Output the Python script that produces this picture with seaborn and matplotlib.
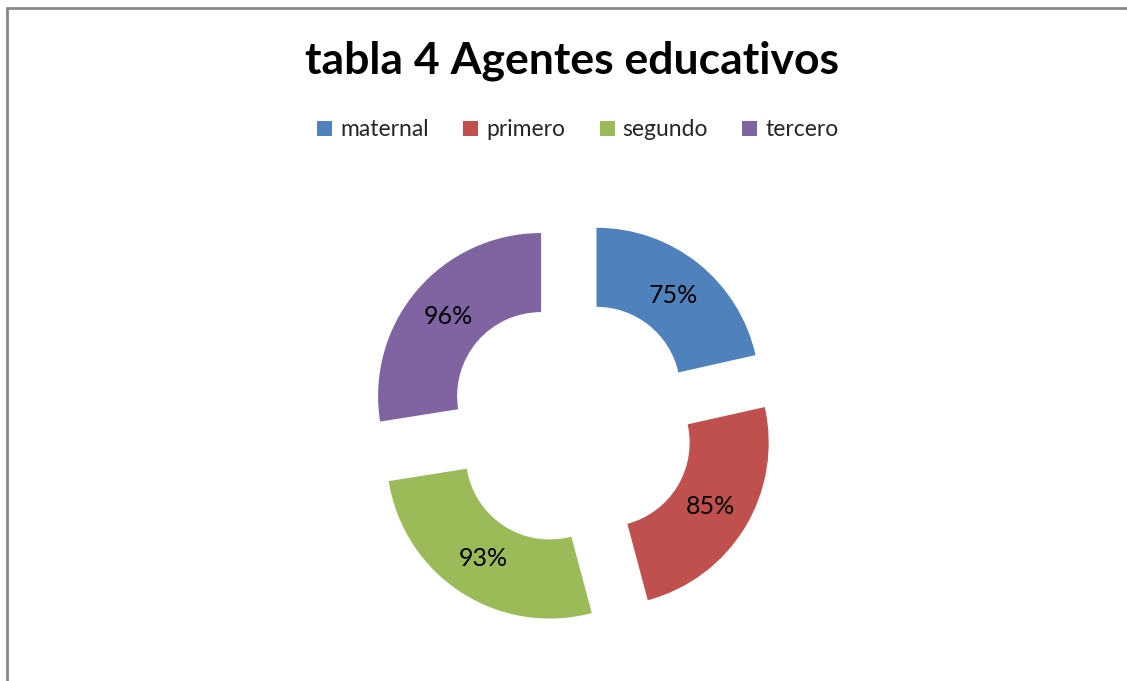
import matplotlib
matplotlib.use('Agg')
import matplotlib.pyplot as plt
from matplotlib.lines import Line2D
import seaborn as sns

# data
etapas = ["maternal", "primero", "segundo", "tercero"]
porcentajes = [75, 85, 93, 96]
colores = ["#4F81BD", "#C0504D", "#9BBB59", "#8064A2"]
titulo = "tabla 4 Agentes educativos"

sns.set_theme(style="white")
plt.rcParams['font.family'] = ['Lato', 'DejaVu Sans']

W, H = 1127, 681
fig = plt.figure(figsize=(W / 100, H / 100), dpi=100)
ax = fig.add_axes([0, 0, 1, 1])

radio = 163
centro = (571.5, H - 422)
wedges, _, autotexts = ax.pie(
    porcentajes, colors=sns.color_palette(colores), startangle=90,
    counterclock=False, radius=radio, center=centro,
    explode=[40] * len(porcentajes),
    autopct=lambda p: "{:.0f}%".format(p * sum(porcentajes) / 100),
    pctdistance=0.75,
    wedgeprops=dict(width=radio * 0.485, linewidth=0),
    textprops=dict(fontsize=18, color="black"))

ax.set_xlim(0, W)
ax.set_ylim(0, H)
ax.set_aspect('equal')
ax.axis('off')

# frame of the chart area (only top and left edges are visible)
fig.add_artist(Line2D([6.5 / W, 6.5 / W], [0, 1 - 7.5 / H], transform=fig.transFigure,
                      color="#888888", lw=2))
fig.add_artist(Line2D([6.5 / W, 1], [1 - 7.5 / H, 1 - 7.5 / H], transform=fig.transFigure,
                      color="#888888", lw=2))

fig.text(572 / W, 1 - 61 / H, titulo, ha="center", va="center",
         fontsize=32, fontweight="bold", color="black")

leg = ax.legend(wedges, etapas, loc="center", bbox_to_anchor=(578 / W, 1 - 130 / H),
                ncol=4, frameon=False, fontsize=16.5, handlelength=0.65,
                handleheight=0.65, handletextpad=0.35, columnspacing=1.5)

fig.savefig("out.png", dpi=100, facecolor="white")
